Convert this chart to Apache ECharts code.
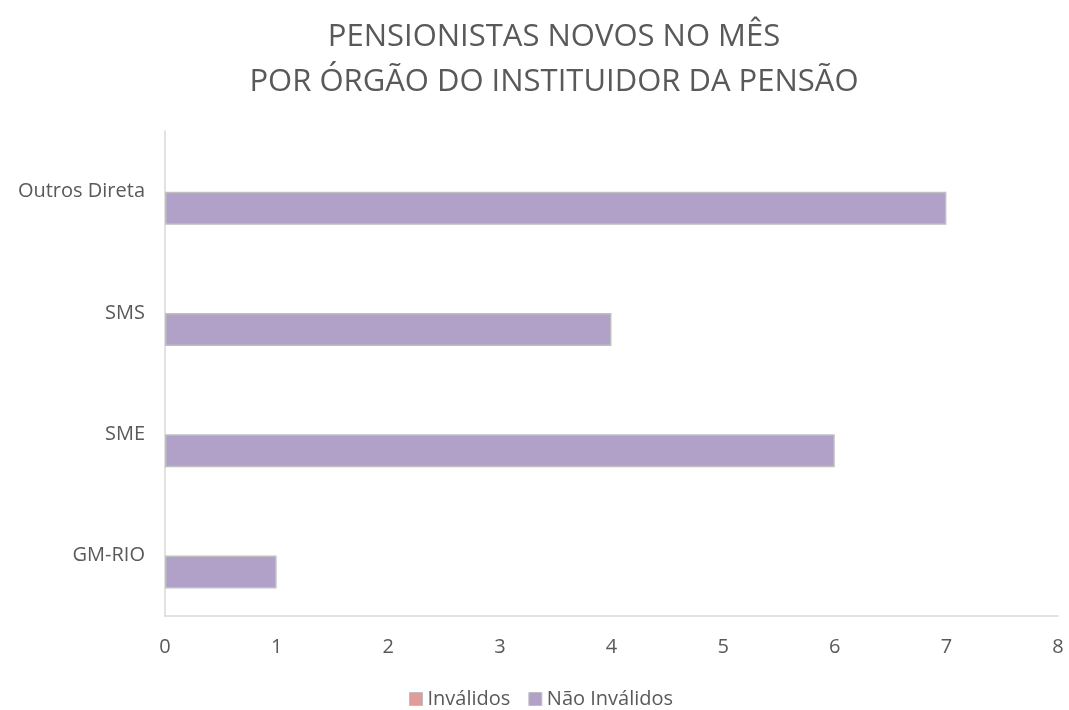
<!DOCTYPE html>
<html>
<head>
<meta charset="utf-8">
<script src="https://cdn.jsdelivr.net/npm/echarts@6/dist/echarts.min.js"></script>
<style>
  html, body { margin: 0; padding: 0; background: #fff; }
  #main { width: 1069px; height: 710px; }
</style>
</head>
<body>
<div id="main"></div>
<script>
// dados do gráfico
var categorias = ['GM-RIO', 'SME', 'SMS', 'Outros Direta'];
var invalidos = [0, 0, 0, 0];
var naoInvalidos = [1, 6, 4, 7];
var ticksX = [0, 1, 2, 3, 4, 5, 6, 7, 8];

var myChart = echarts.init(document.getElementById('main'));
myChart.setOption({
    animation: false,
    title: {
        text: 'PENSIONISTAS NOVOS NO MÊS\nPOR ÓRGÃO DO INSTITUIDOR DA PENSÃO',
        left: 549,
        textAlign: 'center',
        top: 10,
        textStyle: {
            fontFamily: 'Open Sans',
            fontWeight: 'normal',
            fontSize: 31,
            lineHeight: 45,
            color: '#595959'
        }
    },
    legend: {
        top: 684,
        left: 404,
        icon: 'rect',
        itemWidth: 13,
        itemHeight: 13,
        itemGap: 18,
        textStyle: { fontFamily: 'Open Sans', fontSize: 20, color: '#595959' },
        data: [
            { name: 'Inválidos', itemStyle: { borderColor: '#bfbfbf', borderWidth: 1 } },
            { name: 'Não Inválidos', itemStyle: { borderColor: '#bfbfbf', borderWidth: 1 } }
        ]
    },
    grid: { left: 165, right: 11, top: 131, bottom: 94 },
    xAxis: {
        type: 'value',
        min: ticksX[0],
        max: ticksX[ticksX.length - 1],
        interval: 1,
        axisLine: { show: true, lineStyle: { color: '#d9d9d9', width: 1.5 } },
        axisTick: { show: false },
        splitLine: { show: false },
        axisLabel: { fontFamily: 'Open Sans', fontSize: 20, color: '#595959', margin: 21 }
    },
    yAxis: {
        type: 'category',
        data: categorias,
        axisLine: { lineStyle: { color: '#d9d9d9', width: 1.5 } },
        axisTick: { show: false },
        axisLabel: { fontFamily: 'Open Sans', fontSize: 20, color: '#595959', margin: 20 }
    },
    series: [
        {
            name: 'Inválidos',
            type: 'bar',
            barWidth: 33,
            barGap: '0%',
            data: invalidos,
            itemStyle: { color: '#e29b9b', borderWidth: 0 }
        },
        {
            name: 'Não Inválidos',
            type: 'bar',
            barWidth: 33,
            barGap: '0%',
            data: naoInvalidos,
            itemStyle: { color: '#b1a0c7', borderColor: '#bfbfbf', borderWidth: 1.5 }
        }
    ]
});
</script>
</body>
</html>
